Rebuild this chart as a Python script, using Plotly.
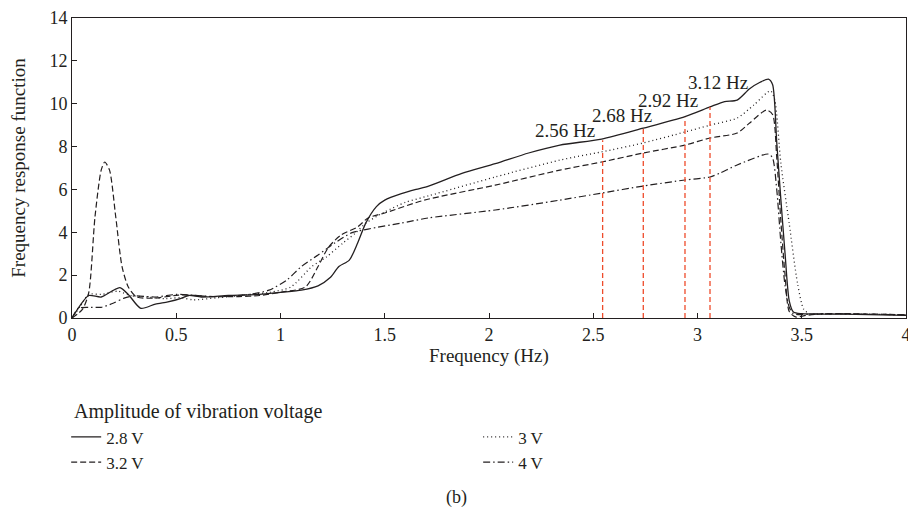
import plotly.graph_objects as go

# ---- data ----
series_names = ["2.8 V", "3 V", "3.2 V", "4 V"]

x_28 = [0, 0.04, 0.08, 0.14, 0.19, 0.23, 0.27, 0.33, 0.40, 0.46, 0.52, 0.56, 0.62, 0.75, 0.9, 1.0, 1.1, 1.18,
        1.24, 1.28, 1.33, 1.37, 1.41, 1.46, 1.50, 1.58, 1.65, 1.71, 1.87, 2.03, 2.19, 2.34, 2.54, 2.74, 2.94,
        3.06, 3.13, 3.19, 3.25, 3.30, 3.34, 3.36, 3.38, 3.40, 3.42, 3.44, 3.46, 3.5, 3.7, 4.0]
y_28 = [0, 0.6, 1.05, 0.98, 1.25, 1.42, 1.1, 0.45, 0.65, 0.75, 0.9, 1.05, 0.98, 1.05, 1.1, 1.2, 1.3, 1.5,
        1.9, 2.4, 2.7, 3.5, 4.45, 5.2, 5.5, 5.8, 6.0, 6.15, 6.75, 7.2, 7.7, 8.07, 8.35, 8.86, 9.4,
        9.85, 10.1, 10.17, 10.7, 11.0, 11.15, 10.9, 8.2, 5.5, 3.0, 0.8, 0.28, 0.2, 0.18, 0.12]

x_30 = [0, 0.04, 0.08, 0.14, 0.22, 0.28, 0.34, 0.45, 0.52, 0.58, 0.7, 0.82, 0.95, 1.05, 1.15, 1.22, 1.3,
        1.36, 1.41, 1.5, 1.6, 1.71, 2.03, 2.34, 2.54, 2.74, 2.94, 3.06, 3.19, 3.27, 3.35, 3.37, 3.40, 3.44,
        3.48, 3.51, 3.54, 3.7, 4.0]
y_30 = [0, 0.55, 1.1, 1.1, 1.25, 1.05, 1.0, 0.9, 0.95, 0.85, 0.95, 1.07, 1.2, 1.45, 2.4, 2.85, 3.5,
        3.97, 4.43, 4.95, 5.4, 5.7, 6.58, 7.37, 7.75, 8.17, 8.68, 9.0, 9.33, 9.94, 10.6, 10.2, 7.2, 4.4,
        1.6, 0.4, 0.2, 0.2, 0.15]

x_32 = [0, 0.05, 0.08, 0.11, 0.14, 0.157, 0.18, 0.21, 0.24, 0.27, 0.31, 0.40, 0.51, 0.57, 0.65, 0.8, 0.9,
        1.0, 1.12, 1.18, 1.23, 1.29, 1.37, 1.42, 1.5, 1.69, 2.03, 2.34, 2.54, 2.74, 2.94, 3.06, 3.19, 3.25,
        3.33, 3.36, 3.38, 3.40, 3.42, 3.44, 3.47, 3.52, 3.6, 4.0]
y_32 = [0, 0.4, 1.17, 4.7, 6.9, 7.28, 6.9, 4.7, 2.4, 1.45, 0.98, 0.93, 1.07, 1.07, 1.0, 1.0, 1.05,
        1.2, 1.45, 2.4, 3.3, 3.87, 4.25, 4.67, 4.9, 5.5, 6.2, 6.9, 7.28, 7.7, 8.07, 8.4, 8.63, 9.1,
        9.7, 9.5, 7.5, 4.5, 2.0, 0.3, 0.05, 0.12, 0.2, 0.15]

x_40 = [0, 0.03, 0.08, 0.14, 0.2, 0.25, 0.3, 0.4, 0.5, 0.57, 0.7, 0.85, 0.945, 1.03, 1.1, 1.18, 1.26,
        1.34, 1.42, 1.58, 1.71, 2.03, 2.34, 2.54, 2.74, 2.94, 3.06, 3.11, 3.19, 3.34, 3.36, 3.38, 3.40,
        3.42, 3.44, 3.46, 3.6, 4.0]
y_40 = [0, 0.45, 0.5, 0.5, 0.7, 0.93, 1.03, 0.98, 1.1, 1.07, 1.0, 1.1, 1.3, 1.77, 2.4, 2.94, 3.5,
        3.97, 4.15, 4.43, 4.67, 5.04, 5.5, 5.83, 6.16, 6.44, 6.58, 6.77, 7.14, 7.65, 7.47, 6.0, 3.5,
        1.5, 0.5, 0.2, 0.2, 0.15]

marker_freqs = [2.545, 2.74, 2.94, 3.06]
marker_tops = [8.3, 8.85, 9.35, 9.85]
marker_labels = ["2.56 Hz", "2.68 Hz", "2.92 Hz", "3.12 Hz"]
label_x = [2.52, 2.79, 3.01, 3.25]
label_y = [8.73, 9.47, 10.17, 11.0]

x_ticks = [0, 0.5, 1, 1.5, 2, 2.5, 3, 3.5, 4]
x_tick_text = ["0", "0.5", "1", "1.5", "2", "2.5", "3", "3.5", "4"]
y_ticks = [0, 2, 4, 6, 8, 10, 12, 14]

x_title = "Frequency (Hz)"
y_title = "Frequency response function"
legend_title = "Amplitude of vibration voltage"
panel_label = "(b)"

FONT = "Liberation Serif"
INK = "#231f20"

fig = go.Figure()
styles = [
    dict(dash="solid", width=1.3),
    dict(dash="1px,3px", width=1.3),
    dict(dash="6px,3px", width=1.2),
    dict(dash="7px,3px,1.5px,3px", width=1.2),
]
for name, xs, ys, st in zip(series_names, [x_28, x_30, x_32, x_40], [y_28, y_30, y_32, y_40], styles):
    fig.add_trace(go.Scatter(
        x=xs, y=ys, mode="lines", name=name,
        line=dict(color=INK, width=st["width"], dash=st["dash"], shape="spline", smoothing=0.7),
    ))

for f, top in zip(marker_freqs, marker_tops):
    fig.add_trace(go.Scatter(
        x=[f, f], y=[0, top], mode="lines", showlegend=False, hoverinfo="skip",
        line=dict(color="#ee4b2b", width=1.3, dash="5px,3px"),
    ))

for lx, ly, txt in zip(label_x, label_y, marker_labels):
    fig.add_annotation(x=lx, y=ly, text=txt, showarrow=False, xanchor="right", yanchor="middle",
                       font=dict(family=FONT, size=19, color=INK))

# x-axis title (placed as annotation to sit close under the tick labels)
fig.add_annotation(x=0.5, y=-0.125, xref="paper", yref="paper", text=x_title, showarrow=False,
                   xanchor="center", yanchor="middle", font=dict(family=FONT, size=19, color=INK))
fig.add_annotation(x=0.0, y=-0.31, xref="paper", yref="paper", text=legend_title, showarrow=False,
                   xanchor="left", yanchor="middle", font=dict(family=FONT, size=20, color=INK))
fig.add_annotation(x=0.4606, y=-0.64, xref="paper", yref="paper", text=panel_label, showarrow=False,
                   font=dict(family=FONT, size=18, color=INK))

# page body has an 8px default margin, so the figure is 8px smaller than the window
fig.update_layout(
    width=908, height=512,
    margin=dict(l=64, r=10, t=10, b=202, autoexpand=False),
    paper_bgcolor="white", plot_bgcolor="white",
    font=dict(family=FONT, size=18, color=INK),
    showlegend=True,
    legend=dict(
        orientation="h", x=-0.007, xanchor="left", y=-0.338, yanchor="top",
        entrywidth=367, itemwidth=30, font=dict(size=17), bgcolor="rgba(0,0,0,0)",
        tracegroupgap=0,
    ),
    xaxis=dict(
        range=[0, 4], tickvals=x_ticks, ticktext=x_tick_text, ticks="inside", ticklen=5,
        tickcolor=INK, showline=True, linecolor=INK, linewidth=1, mirror=True, showgrid=False,
        zeroline=False, automargin=False, ticklabeloverflow="allow",
        tickfont=dict(size=18),
    ),
    yaxis=dict(
        range=[0, 14], tickvals=y_ticks, ticks="inside", ticklen=5, tickcolor=INK,
        showline=True, linecolor=INK, linewidth=1, mirror=True, showgrid=False, zeroline=False,
        automargin=False, ticklabeloverflow="allow",
        title=dict(text=y_title, standoff=20, font=dict(size=19)),
        tickfont=dict(size=18),
    ),
)

fig.write_html("out.html")
